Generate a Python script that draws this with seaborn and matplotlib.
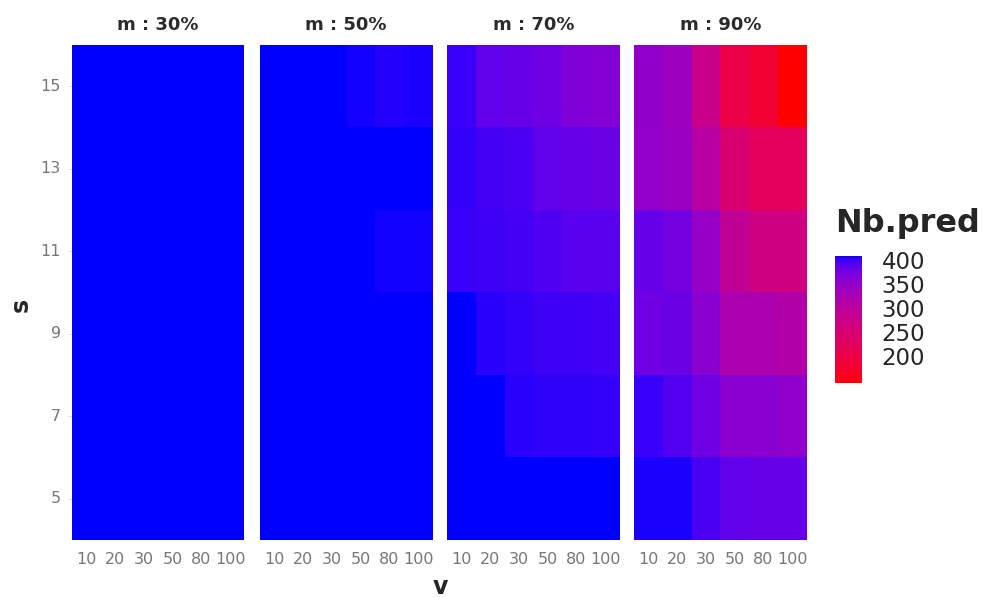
import numpy as np
import pandas as pd
import matplotlib
matplotlib.use("Agg")
import matplotlib.pyplot as plt
import seaborn as sns
from matplotlib.colors import ListedColormap

# axes levels
v_levels = [10, 20, 30, 50, 80, 100]
s_levels = [5, 7, 9, 11, 13, 15]
m_levels = ["30%", "50%", "70%", "90%"]

# Nb.pred, rows = s (5 -> 15), columns = v (10 -> 100)
nb_pred_m30 = [
    [409, 409, 409, 409, 409, 409],
    [409, 409, 409, 409, 409, 409],
    [409, 409, 409, 409, 409, 409],
    [409, 409, 409, 409, 409, 409],
    [409, 409, 409, 409, 409, 409],
    [409, 409, 409, 409, 409, 409],
]
nb_pred_m50 = [
    [409, 409, 409, 409, 409, 409],
    [409, 409, 409, 409, 409, 409],
    [409, 409, 409, 409, 409, 409],
    [409, 409, 409, 409, 407, 407],
    [409, 409, 409, 409, 409, 409],
    [409, 409, 409, 407, 405, 406],
]
nb_pred_m70 = [
    [409, 409, 409, 409, 409, 409],
    [409, 409, 404, 403, 403, 402],
    [409, 404, 402, 399, 399, 398],
    [401, 399, 398, 394, 390, 390],
    [402, 398, 396, 386, 384, 381],
    [401, 386, 384, 378, 366, 362],
]
nb_pred_m90 = [
    [406, 406, 396, 386, 384, 384],
    [401, 392, 378, 358, 358, 354],
    [378, 381, 358, 320, 320, 313],
    [384, 374, 346, 292, 268, 268],
    [350, 342, 306, 248, 225, 225],
    [352, 338, 277, 203, 180, 144],
]
all_values = [nb_pred_m30, nb_pred_m50, nb_pred_m70, nb_pred_m90]

rows = []
for m, grid in zip(m_levels, all_values):
    for s, line in zip(s_levels, grid):
        for v, val in zip(v_levels, line):
            rows.append({"m": m, "s": s, "v": v, "Nb.pred": val})
df = pd.DataFrame(rows)


# red -> blue gradient interpolated in Lab space (like ggplot's scale_fill_gradient)
M = np.array([[0.4124, 0.3576, 0.1805],
              [0.2126, 0.7152, 0.0722],
              [0.0193, 0.1192, 0.9505]])
WHITE = np.array([0.95047, 1.0, 1.08883])


def to_lab(rgb):
    rgb = np.asarray(rgb, float)
    lin = np.where(rgb <= 0.04045, rgb / 12.92, ((rgb + 0.055) / 1.055) ** 2.4)
    xyz = M @ lin / WHITE
    f = np.where(xyz > 0.008856, np.cbrt(xyz), 7.787 * xyz + 16 / 116)
    return np.array([116 * f[1] - 16, 500 * (f[0] - f[1]), 200 * (f[1] - f[2])])


def from_lab(lab):
    L, a, b = lab
    fy = (L + 16) / 116
    f = np.array([fy + a / 500, fy, fy - b / 200])
    xyz = np.where(f > 0.206897, f ** 3, (f - 16 / 116) / 7.787) * WHITE
    lin = np.clip(np.linalg.inv(M) @ xyz, 0, 1)
    return np.where(lin <= 0.0031308, 12.92 * lin, 1.055 * lin ** (1 / 2.4) - 0.055)


lab_lo, lab_hi = to_lab([1, 0, 0]), to_lab([0, 0, 1])
cmap = ListedColormap(
    [np.clip(from_lab(lab_lo + t * (lab_hi - lab_lo)), 0, 1) for t in np.linspace(0, 1, 256)]
)
vmin, vmax = df["Nb.pred"].min(), df["Nb.pred"].max()

sns.set_style("white")
plt.rcParams["font.family"] = ["DejaVu Sans"]

fig = plt.figure(figsize=(9.87, 5.98), dpi=100)
lefts = [0.0729, 0.2634, 0.4529, 0.6424]
cax = fig.add_axes([0.846, 0.3595, 0.0274, 0.2124])

for i, m in enumerate(m_levels):
    ax = fig.add_axes([lefts[i], 0.097, 0.1748, 0.8278])
    data = df[df["m"] == m].pivot(index="s", columns="v", values="Nb.pred")
    data = data.sort_index(ascending=False)
    sns.heatmap(
        data, ax=ax, cmap=cmap, vmin=vmin, vmax=vmax,
        cbar=(i == 3), cbar_ax=cax if i == 3 else None,
        xticklabels=True, yticklabels=(i == 0), linewidths=0,
    )
    ax.set_title(f"m : {m}", fontsize=13, fontweight="bold", color="#2b2b2b", pad=11)
    ax.set_xlabel("")
    ax.set_ylabel("")
    ax.tick_params(axis="x", labelsize=11.5, labelcolor="#777777", rotation=0,
                   length=3, color="#dddddd", pad=6)
    ax.tick_params(axis="y", labelsize=11.5, labelcolor="#777777", rotation=0,
                   length=3, color="#dddddd", pad=5, left=(i == 0))

fig.text(0.4459, 0.006, "v", fontsize=17, fontweight="bold", ha="center", va="baseline")
fig.text(0.021, 0.49, "s", fontsize=17, fontweight="bold", rotation=90,
         ha="center", va="center")

cax.set_yticks([200, 250, 300, 350, 400])
cax.tick_params(axis="y", labelsize=16.5, direction="in", length=4, color="white",
                left=True, right=True, pad=14)
for spine in cax.spines.values():
    spine.set_visible(False)
cax.set_title("Nb.pred", fontsize=23, fontweight="bold", loc="left", pad=17)

fig.savefig("out.png", dpi=100)
